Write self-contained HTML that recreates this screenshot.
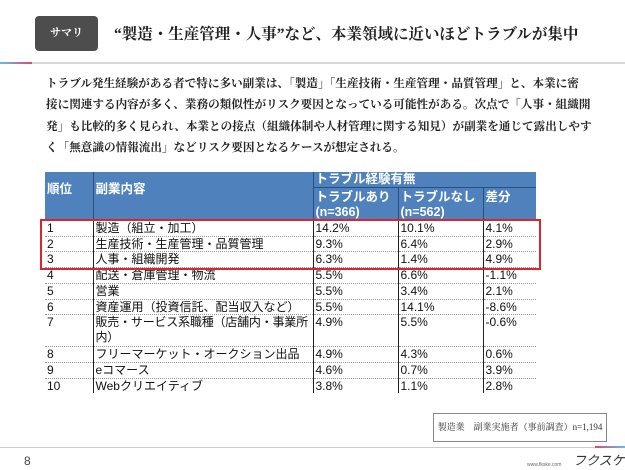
<!DOCTYPE html>
<html><head><meta charset="utf-8"><style>
body{margin:0;width:625px;height:470px;background:#fff;position:relative;overflow:hidden;font-family:"Liberation Sans","Noto Sans CJK JP",sans-serif}
.abs{position:absolute}
.serif{font-family:"Liberation Serif","Noto Serif CJK SC",serif;font-weight:bold}
.badge{left:35px;top:16px;width:63px;height:35px;background:#4d4d4d;border-radius:4px;color:#fff;font-size:11px;text-align:center;line-height:35px}
.title{left:114px;top:22px;font-size:15.5px;color:#222;white-space:nowrap}
.hl{left:0;top:62px;width:625px;height:2px;background:#d8d8d8}
.p{left:46px;top:73px;font-size:11.6px;line-height:21.3px;color:#222;white-space:nowrap}
table{position:absolute;left:45px;top:172px;border-collapse:collapse;font-size:12px;color:#111;table-layout:fixed}
td{padding:0 2px;vertical-align:top;border-bottom:1px dotted #999;line-height:14.7px;height:14.7px;white-space:nowrap;overflow:hidden}
td.c{border-left:1px solid #222}
th{background:#4f81bd;color:#fff;text-align:left;font-weight:bold;padding:0 2px;vertical-align:top;font-size:12.5px;line-height:15px;white-space:nowrap}
th.c{border-left:1px solid #2a4f7f}
.red{left:40px;top:219px;width:497px;height:47px;border:2px solid #d9252b}
.note{left:433px;top:413px;width:172px;height:27px;border:1px solid #888;font-size:9px;line-height:27px;text-align:center;color:#333}
</style></head><body>
<div class="abs badge serif">サマリ</div>
<div class="abs title serif">“製造・生産管理・人事”など、本業領域に近いほどトラブルが集中</div>
<div class="abs hl"></div>
<div class="abs" style="left:0;top:62px;width:32px;height:2px;background:linear-gradient(90deg,#5bc0eb,#e0457b)"></div>
<div class="abs p serif">トラブル発生経験がある者で特に多い副業は、「製造」「生産技術・生産管理・品質管理」と、本業に密<br>接に関連する内容が多く、業務の類似性がリスク要因となっている可能性がある。次点で「人事・組織開<br>発」も比較的多く見られ、本業との接点（組織体制や人材管理に関する知見）が副業を通じて露出しやす<br>く「無意識の情報流出」などリスク要因となるケースが想定される。</div>
<table>
<colgroup><col style="width:48px"><col style="width:220px"><col style="width:85px"><col style="width:85px"><col style="width:53px"></colgroup>
<tr><th rowspan="2" style="vertical-align:middle;padding-bottom:14px">順位</th><th rowspan="2" class="c" style="vertical-align:middle;padding-bottom:14px">副業内容</th><th colspan="3" class="c" style="height:15px;border-bottom:1px solid #2a4f7f">トラブル経験有無</th></tr>
<tr><th class="c" style="height:33px;vertical-align:middle">トラブルあり<br>(n=366)</th><th class="c" style="vertical-align:middle">トラブルなし<br>(n=562)</th><th class="c" style="vertical-align:top;padding-top:2px">差分</th></tr>
<tr><td>1</td><td class="c">製造（組立・加工）</td><td class="c">14.2%</td><td class="c">10.1%</td><td class="c">4.1%</td></tr>
<tr><td>2</td><td class="c">生産技術・生産管理・品質管理</td><td class="c">9.3%</td><td class="c">6.4%</td><td class="c">2.9%</td></tr>
<tr><td>3</td><td class="c">人事・組織開発</td><td class="c">6.3%</td><td class="c">1.4%</td><td class="c">4.9%</td></tr>
<tr><td>4</td><td class="c">配送・倉庫管理・物流</td><td class="c">5.5%</td><td class="c">6.6%</td><td class="c">-1.1%</td></tr>
<tr><td>5</td><td class="c">営業</td><td class="c">5.5%</td><td class="c">3.4%</td><td class="c">2.1%</td></tr>
<tr><td>6</td><td class="c">資産運用（投資信託、配当収入など）</td><td class="c">5.5%</td><td class="c">14.1%</td><td class="c">-8.6%</td></tr>
<tr><td style="height:31px">7</td><td class="c" style="letter-spacing:-0.2px">販売・サービス系職種（店舗内・事業所<br>内）</td><td class="c">4.9%</td><td class="c">5.5%</td><td class="c">-0.6%</td></tr>
<tr><td>8</td><td class="c">フリーマーケット・オークション出品</td><td class="c">4.9%</td><td class="c">4.3%</td><td class="c">0.6%</td></tr>
<tr><td>9</td><td class="c">eコマース</td><td class="c">4.6%</td><td class="c">0.7%</td><td class="c">3.9%</td></tr>
<tr><td style="border-bottom:none">10</td><td class="c" style="border-bottom:none">Webクリエイティブ</td><td class="c" style="border-bottom:none">3.8%</td><td class="c" style="border-bottom:none">1.1%</td><td class="c" style="border-bottom:none">2.8%</td></tr>
</table>
<div class="abs red"></div>
<div class="abs note serif" style="font-weight:normal">製造業　副業実施者（事前調査）n=1,194</div>
<div class="abs" style="left:0;top:447px;width:625px;height:1px;background:#ccc"></div>
<div class="abs" style="left:595px;top:446px;width:30px;height:2px;background:linear-gradient(90deg,#e0457b,#5bc0eb)"></div>
<div class="abs" style="left:24px;top:454px;font-size:12px;color:#444">8</div>
<div class="abs" style="left:527px;top:462px;font-size:5px;color:#666;white-space:nowrap">www.fkske.com</div>
<div class="abs" style="left:573px;top:450px;font-size:13px;font-style:italic;color:#333;white-space:nowrap">フクスケ</div>
</body></html>
